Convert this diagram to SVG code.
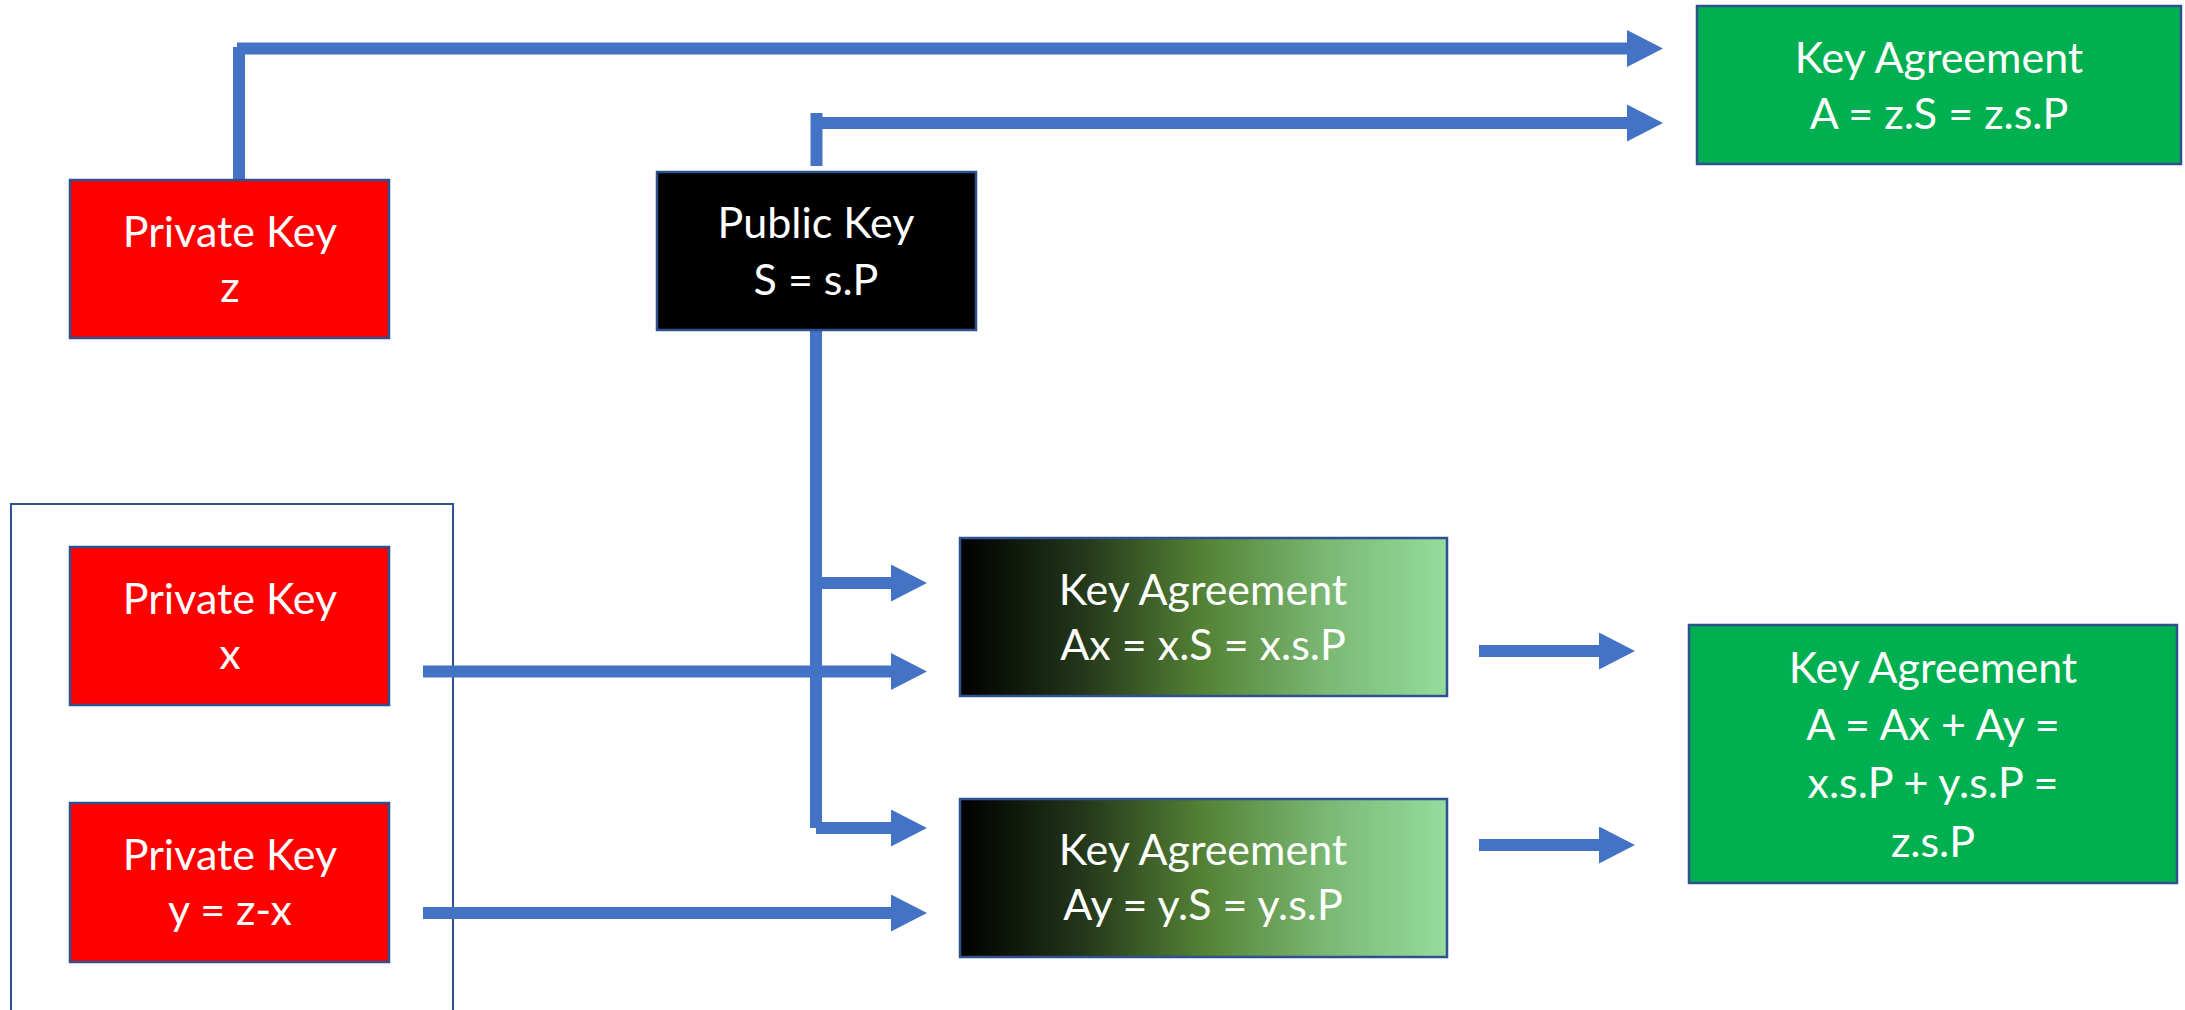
<svg xmlns="http://www.w3.org/2000/svg" width="2185" height="1010" viewBox="0 0 2185 1010">
  <style>
    .box { stroke: #2F528F; stroke-width: 2.5; }
    .red { fill: #FF0000; }
    .black { fill: #000000; }
    .green { fill: #00B050; }
    .grad { fill: url(#darkToLight); }
    .lbl { font-family: Lato, "Liberation Sans", sans-serif; font-size: 43px; fill: #FFFFFF; text-anchor: middle; }
    .wire { stroke: #4472C4; stroke-width: 12; fill: none; }
    .arrow { stroke: #4472C4; stroke-width: 12; fill: none; marker-end: url(#head); }
  </style>
  <defs>
    <linearGradient id="darkToLight" x1="0" y1="0" x2="1" y2="0">
      <stop offset="0" stop-color="#000000"/>
      <stop offset="0.25" stop-color="#23361a"/>
      <stop offset="0.5" stop-color="#548235"/>
      <stop offset="0.75" stop-color="#7ab873"/>
      <stop offset="1" stop-color="#94DC9E"/>
    </linearGradient>
    <marker id="head" markerUnits="userSpaceOnUse" markerWidth="36" markerHeight="37" refX="0" refY="18.5" orient="auto">
      <path d="M0,0 L36,18.5 L0,37 Z" fill="#4472C4"/>
    </marker>
  </defs>

  <rect x="11" y="504" width="442" height="540" fill="none" stroke="#2F528F" stroke-width="2"/>

  <!-- connectors -->
  <g id="connectors">
    <line class="wire" x1="239" y1="47" x2="239" y2="180"/>
    <line class="arrow" x1="237" y1="48.5" x2="1627" y2="48.5"/>
    <line class="wire" x1="816.5" y1="113" x2="816.5" y2="166"/>
    <line class="arrow" x1="822" y1="123" x2="1627" y2="123"/>
    <line class="wire" x1="816" y1="330" x2="816" y2="828"/>
    <line class="arrow" x1="816" y1="583" x2="891" y2="583"/>
    <line class="arrow" x1="816" y1="828" x2="891" y2="828"/>
    <line class="arrow" x1="423" y1="671.5" x2="891" y2="671.5"/>
    <line class="arrow" x1="423" y1="913" x2="891" y2="913"/>
    <line class="arrow" x1="1479" y1="651" x2="1599" y2="651"/>
    <line class="arrow" x1="1479" y1="845" x2="1599" y2="845"/>
  </g>

  <g id="private-z">
    <rect class="box red" x="70" y="180" width="319" height="158"/>
    <text class="lbl" x="230" y="247">Private Key</text>
    <text class="lbl" x="230" y="302">z</text>
  </g>

  <g id="public-key">
    <rect class="box black" x="657" y="172" width="319" height="158"/>
    <text class="lbl" x="816" y="238">Public Key</text>
    <text class="lbl" x="816" y="295">S = s.P</text>
  </g>

  <g id="agreement-z">
    <rect class="box green" x="1697" y="6" width="484" height="158"/>
    <text class="lbl" x="1939" y="73">Key Agreement</text>
    <text class="lbl" x="1939" y="129">A = z.S = z.s.P</text>
  </g>

  <g id="private-x">
    <rect class="box red" x="70" y="547" width="319" height="158"/>
    <text class="lbl" x="230" y="614">Private Key</text>
    <text class="lbl" x="230" y="669">x</text>
  </g>

  <g id="private-y">
    <rect class="box red" x="70" y="803" width="319" height="159"/>
    <text class="lbl" x="230" y="870">Private Key</text>
    <text class="lbl" x="230" y="925">y = z-x</text>
  </g>

  <g id="agreement-x">
    <rect class="box grad" x="960" y="538" width="487" height="158"/>
    <text class="lbl" x="1203" y="605">Key Agreement</text>
    <text class="lbl" x="1203" y="660">Ax = x.S = x.s.P</text>
  </g>

  <g id="agreement-y">
    <rect class="box grad" x="960" y="799" width="487" height="158"/>
    <text class="lbl" x="1203" y="865">Key Agreement</text>
    <text class="lbl" x="1203" y="920">Ay = y.S = y.s.P</text>
  </g>

  <g id="agreement-sum">
    <rect class="box green" x="1689" y="625" width="488" height="258"/>
    <text class="lbl" x="1933" y="683">Key Agreement</text>
    <text class="lbl" x="1933" y="740">A = Ax + Ay =</text>
    <text class="lbl" x="1933" y="798">x.s.P + y.s.P =</text>
    <text class="lbl" x="1933" y="857">z.s.P</text>
  </g>
</svg>
